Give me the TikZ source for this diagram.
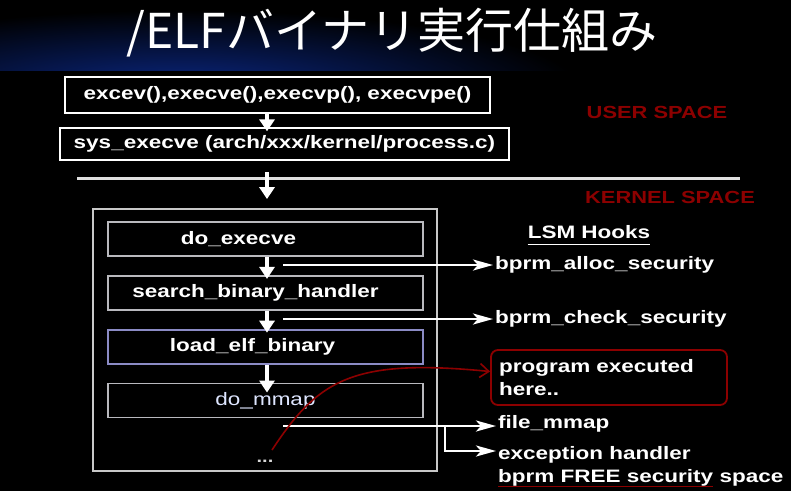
\documentclass[tikz,border=0pt]{standalone}
\usepackage{fontspec}
\setmainfont{Liberation Sans}[FakeStretch=1.25]
\newfontfamily\cjkfont{Noto Sans CJK JP}
\usepackage{tikz}
\usetikzlibrary{
    positioning,  % For placing nodes relative to each other (e.g., below=of)
    arrows.meta,  % For advanced arrow tips (e.g., Stealth)
    calc          % For coordinate calculations
}
\definecolor{TitleNavy}{RGB}{10,38,128}
\definecolor{SpaceRed}{RGB}{140,0,0}
\definecolor{BoxGray}{RGB}{185,185,190}
\definecolor{FrameGray}{RGB}{200,200,200}
\definecolor{LoadBlue}{RGB}{120,120,200}
\definecolor{MmapBlue}{RGB}{222,230,255}

% red underline under part of a label
\newsavebox{\freebox}
\newcommand{\redunder}[1]{\sbox{\freebox}{#1}\rlap{\color{SpaceRed}\rule[-5pt]{\wd\freebox}{1.5pt}}\usebox{\freebox}}

\tikzset{
    % Big heading
    title_node/.style={text=white, font=\cjkfont\fontsize{48}{52}\selectfont, inner sep=0pt},
    % A shape for the user space calls
    call_node/.style={
        rectangle, draw=white, line width=1.3pt, text=white,
        font=\bfseries\fontsize{18}{20}\selectfont, inner sep=0pt
    },
    % A shape for the kernel functions
    func_node/.style={
        rectangle, draw=BoxGray, line width=1.8pt, text=white,
        minimum width=315pt, minimum height=34pt, inner sep=0pt,
        font=\bfseries\fontsize{18}{20}\selectfont
    },
    % The kernel frame round the functions
    frame_node/.style={rectangle, draw=FrameGray, line width=1.8pt, inner sep=0pt},
    % Labels of the LSM hooks
    hook_node/.style={anchor=west, text=white, inner sep=2pt, font=\bfseries\fontsize{18}{20}\selectfont},
    % The box where the program runs
    exec_node/.style={
        rectangle, rounded corners=7pt, draw=SpaceRed, line width=1.8pt,
        text=white, align=left, text width=220pt, inner sep=8pt,
        minimum height=55pt, font=\bfseries\fontsize{18}{23}\selectfont
    },
    % USER / KERNEL SPACE labels
    space_node/.style={text=SpaceRed, font=\bfseries\fontsize{17.5}{20}\selectfont},
    % Arrow styles
    flow_arrow/.style={-{Triangle[length=12pt,width=15pt]}, line width=4pt, draw=white},
    hook_arrow/.style={-{Stealth[length=20pt,width=11pt,inset=5pt]}, line width=2.5pt, draw=white},
    exec_arrow/.style={-{Straight Barb[length=9pt,width=14pt]}, line width=1.6pt, draw=SpaceRed},
    divider_line/.style={line width=3pt, draw=white!88!black}
}

\begin{document}
\begin{tikzpicture}[x=1pt, y=-1pt]

% --- BACKGROUND ---
\useasboundingbox (0,0) rectangle (791,491);
\fill[black] (0,0) rectangle (791,491);
\begin{scope}
    \clip (0,0) rectangle (791,70);
    \shade[inner color=TitleNavy, outer color=black] (180,88) ellipse [x radius=400, y radius=78];
\end{scope}

\node[title_node] (title) at (392,33) {/ELFバイナリ実行仕組み};

% --- USER SPACE ---
\node[call_node, minimum width=425pt, minimum height=36pt] (exec_calls) at (277.5,95) {excev(),execve(),execvp(), execvpe()};
\node[call_node, minimum width=449pt, minimum height=32pt] (sys_execve) at (284.5,144) {sys\_execve (arch/xxx/kernel/process.c)};

\node[space_node] (user_space) at (657,112) {USER SPACE};
\node[space_node] (kernel_space) at (670,197) {KERNEL SPACE};

\coordinate (split_left) at (77,178);
\coordinate (split_right) at (740,178);
\draw[divider_line] (split_left) -- (split_right);

% --- KERNEL SPACE ---
\node[frame_node, minimum width=344pt, minimum height=262pt] (kernel_frame) at (265,340) {};

\node[func_node] (do_execve) at (265.5,239) {do\_execve\hspace*{54pt}};
\node[func_node, below=18pt of do_execve] (search_handler) {search\_binary\_handler\hspace*{20pt}};
\node[func_node, below=18pt of search_handler, draw=LoadBlue!70!BoxGray] (load_elf) {load\_elf\_binary\hspace*{26pt}};
\node[func_node, below=18pt of load_elf, text=MmapBlue, font=\fontsize{18}{20}\selectfont] (do_mmap) {do\_mmap};

\node[text=white!85!black, font=\bfseries\fontsize{16}{18}\selectfont] (more_steps) at (265,461) {...};

% --- EDGE ROUTING ---
\coordinate (flow_x) at (267,0);
\draw[flow_arrow] (exec_calls.south -| flow_x) -- ([yshift=-4pt]sys_execve.north -| flow_x);
\draw[flow_arrow] ([yshift=6pt]split_left -| flow_x) -- ([yshift=9pt]kernel_frame.north -| flow_x);
\draw[flow_arrow] (do_execve.south -| flow_x) -- ([yshift=-4pt]search_handler.north -| flow_x);
\draw[flow_arrow] (search_handler.south -| flow_x) -- ([yshift=-4pt]load_elf.north -| flow_x);
\draw[flow_arrow] (load_elf.south -| flow_x) -- ([yshift=-10pt]do_mmap.north -| flow_x);

% --- LSM HOOKS ---
\node[text=white, inner sep=0pt, font=\bfseries\fontsize{18}{20}\selectfont] (lsm_title) at (589,232) {LSM Hooks};
\draw[white, line width=1.6pt] ([yshift=-6pt]lsm_title.base west) -- ([yshift=-6pt]lsm_title.base east);

\node[hook_node] (alloc_hook) at (493,265) {bprm\_alloc\_security};
\node[hook_node] (check_hook) at (493,319) {bprm\_check\_security};
\node[exec_node] (exec_here) at (609,377.5) {program executed\\here..};
\node[hook_node] (mmap_hook) at (496,424) {file\_mmap};
\node[hook_node] (exc_hook) at (496,455) {exception handler};
\node[hook_node] (free_hook) at (496,478) {\redunder{bprm FREE security} space};

\coordinate (hook_x) at (283,0);
\coordinate (branch_x) at (445,0);
\draw[hook_arrow] (alloc_hook.west -| hook_x) -- (alloc_hook.west);
\draw[hook_arrow] (check_hook.west -| hook_x) -- (check_hook.west);
\draw[hook_arrow] ([yshift=-2pt]mmap_hook.west -| hook_x) -- ([yshift=-2pt]mmap_hook.west);
\draw[hook_arrow] ([yshift=-2pt]mmap_hook.west -| branch_x) |- ([yshift=4pt]exc_hook.west);

% Program runs here
\coordinate (curve_start) at (272,450);
\draw[exec_arrow] (curve_start) .. controls (318,380) and (352,358) .. ([yshift=6pt]exec_here.west);

\end{tikzpicture}
\end{document}
